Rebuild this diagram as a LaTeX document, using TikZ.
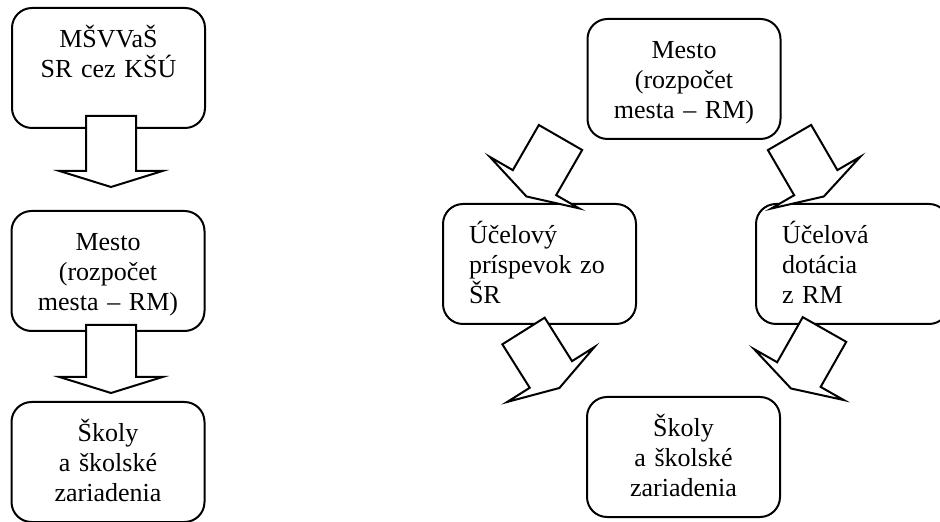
\documentclass[tikz,border=0pt]{standalone}
\usepackage{fontspec}
\setmainfont{Liberation Serif}
\usepackage{tikz}
\usetikzlibrary{calc}

\begin{document}
\begin{tikzpicture}[
    x=0.5pt, y=-0.5pt,
    font=\fontsize{13}{15}\selectfont,
    box/.style={draw, line width=1pt, rounded corners=10pt, anchor=north,
      inner xsep=13pt, inner ysep=0pt, text width=70.5pt,
      text height=20pt, text depth=40pt, align=center},
    barr/.style={draw, fill=white, line width=1pt, line join=miter}
  ]
  \useasboundingbox (0,0) rectangle (940,522);

  % ══ LEFT: chain of three boxes ═══════════════════════════════════════════
  \node[box] (msvvas) at (108.5,7)  {MŠVVaŠ\\SR cez KŠÚ};
  \node[box] (mesto1) at (108,210)  {Mesto\\(rozpočet\\mesta – RM)};
  \node[box] (skoly1) at (108,401)  {Školy\\a školské\\zariadenia};

  % ══ RIGHT: city splits into two flows ════════════════════════════════════
  \node[box] (mesto2) at (684,18)   {Mesto\\(rozpočet\\mesta – RM)};
  \node[box, align=left] (prisp) at (539.5,203) {Účelový\\príspevok zo\\ŠR};
  \node[box, align=left] (dotac) at (852.5,203) {Účelová\\dotácia\\z RM};
  \node[box] (skoly2) at (683.5,396) {Školy\\a školské\\zariadenia};

  % tails and tips of the block arrows
  \coordinate (t1) at ($(msvvas.south)+(2.5,-13)$);
  \coordinate (h1) at ($(mesto1.north)+(3,-23)$);
  \coordinate (t2) at ($(mesto1.south)+(3,-7)$);
  \coordinate (h2) at ($(skoly1.north)+(3,-8)$);
  \coordinate (ta) at ($(mesto2.south west)+(-26,-2.5)$);
  \coordinate (ha) at ($(prisp.north)+(-13,-6.5)$);
  \coordinate (tb) at ($(mesto2.south east)+(8,-2.5)$);
  \coordinate (hb) at ($(dotac.north)+(-28.7,-6.5)$);
  \coordinate (tc) at ($(prisp.south)+(-16,6)$);
  \coordinate (hc) at ($(skoly2.north west)+(-26.6,-8)$);
  \coordinate (td) at ($(dotac.south)+(-28,4.5)$);
  \coordinate (hd) at ($(skoly2.north east)+(10,-7.5)$);

  % block arrows (white fill hides the box borders below)
  \foreach \t/\h in {t1/h1, t2/h2, ta/ha, tb/hb, tc/hc, td/hd} {
    \coordinate (bh) at ($(\h)!8pt!(\t)$);
    \draw[barr] ($(\t)!12.5pt!90:(\h)$) -- ($(bh)!12.5pt!90:(\h)$)
      -- ($(bh)!25.75pt!90:(\h)$) -- (\h)
      -- ($(bh)!25.75pt!-90:(\h)$) -- ($(bh)!12.5pt!-90:(\h)$)
      -- ($(\t)!12.5pt!-90:(\h)$) -- cycle;
  }

\end{tikzpicture}
\end{document}
